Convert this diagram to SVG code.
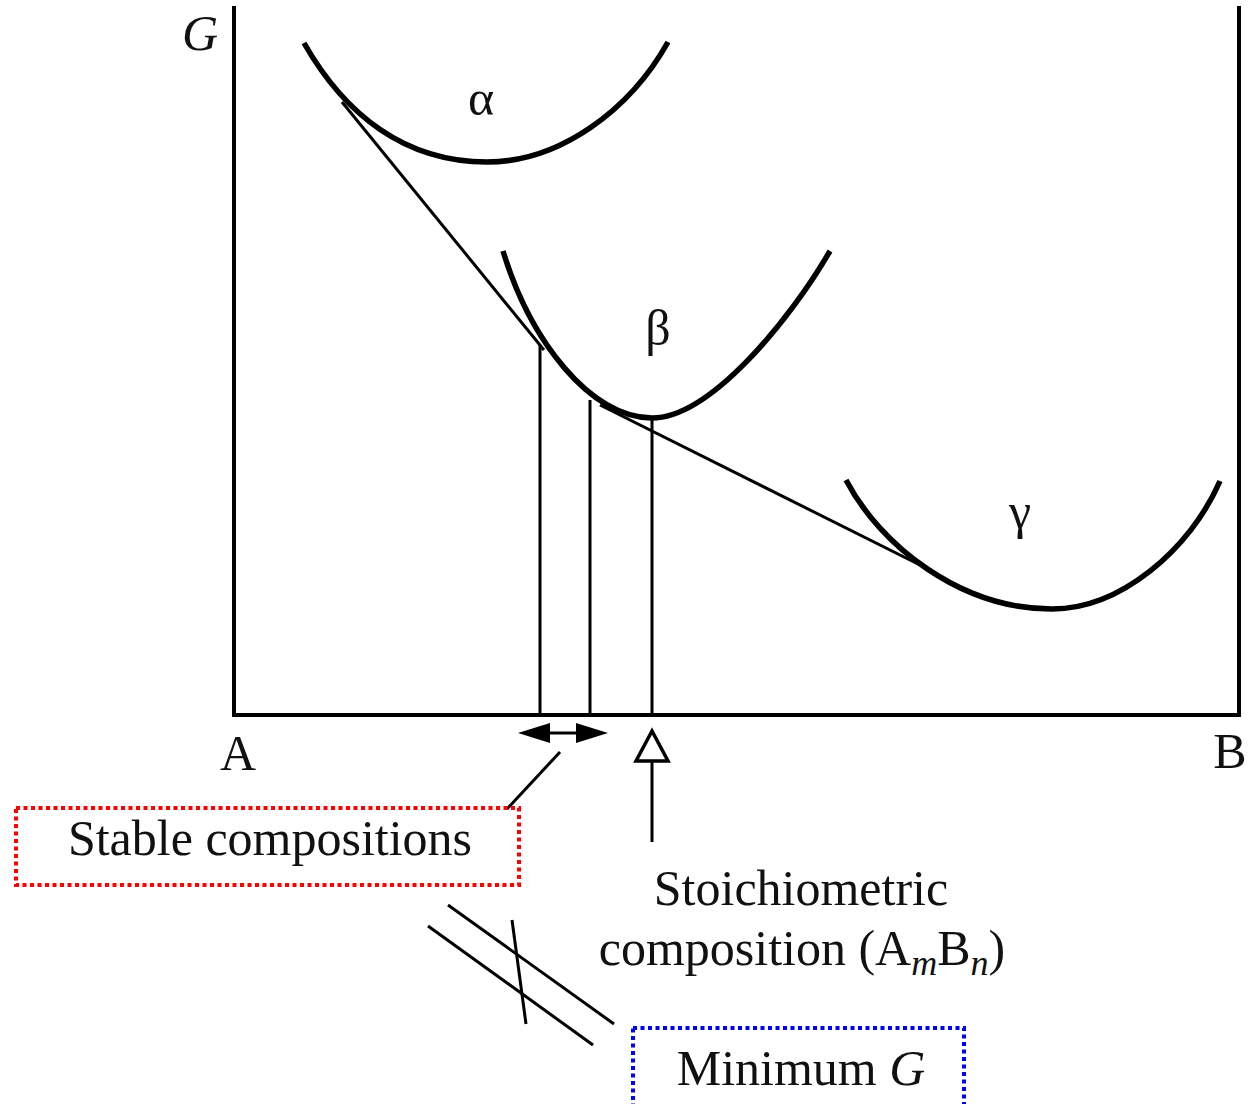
<svg xmlns="http://www.w3.org/2000/svg" width="1249" height="1104" viewBox="0 0 1249 1104">
<style>
.axis{fill:none;stroke:#000;stroke-width:4;stroke-linecap:square}
.curve{fill:none;stroke:#000;stroke-width:5.5;stroke-linecap:butt}
.thin{fill:none;stroke:#000;stroke-width:3}
.lbl{font-family:"Liberation Serif","DejaVu Serif",serif;font-size:50px;fill:#111;text-anchor:middle}
.it{font-style:italic}
.sub{font-size:36px;font-style:italic}
.redbox{fill:none;stroke:#ff0000;stroke-width:4;stroke-dasharray:4 3.5}
.bluebox{fill:none;stroke:#0000ff;stroke-width:4;stroke-dasharray:4 3.5}
</style>
<rect width="1249" height="1104" fill="#fff"/>
<g id="axes">
<path class="axis" d="M234,8 V715 H1239 V8"/>
</g>
<g id="alpha">
<path class="curve" d="M304,43 C345,115 405,162 487,162 C560,162 630,110 668,42"/>
<text class="lbl" x="481" y="115">α</text>
</g>
<g id="beta">
<path class="curve" d="M503,251 C530,340 590,418 652,418 C710,418 790,320 830,251"/>
<text class="lbl" x="658" y="345">β</text>
</g>
<g id="gamma">
<path class="curve" d="M846,480 C880,545 960,609 1052,609 C1120,609 1190,550 1220,481"/>
<text class="lbl" x="1020" y="528">γ</text>
</g>
<g id="labels">
<text class="lbl it" x="200" y="50">G</text>
<text class="lbl" x="238" y="770">A</text>
<text class="lbl" x="1230" y="768">B</text>
</g>
<g id="connectors">
<line class="thin" x1="342" y1="102" x2="544" y2="350"/>
<line class="thin" x1="600" y1="405" x2="932" y2="571"/>
<line class="thin" x1="540" y1="345" x2="540" y2="715"/>
<line class="thin" x1="590" y1="400" x2="590" y2="715"/>
<line class="thin" x1="652" y1="418" x2="652" y2="715"/>
<line class="thin" x1="548" y1="733" x2="579" y2="733"/>
<path d="M518,733 L550,723 L550,743 Z" fill="#000"/>
<path d="M608,733 L576,723 L576,743 Z" fill="#000"/>
<line class="thin" x1="560" y1="752" x2="507" y2="809"/>
<path d="M652,731 L636,761 L668,761 Z" fill="#fff" stroke="#000" stroke-width="3.5" stroke-linejoin="miter"/>
<line class="thin" x1="652" y1="761" x2="652" y2="842"/>
<line class="thin" x1="448" y1="905" x2="614" y2="1024"/>
<line class="thin" x1="428" y1="926" x2="593" y2="1045"/>
<line class="thin" x1="512" y1="920" x2="526" y2="1024"/>
</g>
<g id="stable">
<rect class="redbox" x="16" y="808" width="503" height="77"/>
<text class="lbl" x="270" y="855">Stable compositions</text>
</g>
<g id="stoich">
<text class="lbl" x="801" y="905">Stoichiometric</text>
<text class="lbl" x="802" y="965">composition (A<tspan class="sub" dy="10">m</tspan><tspan dy="-10">B</tspan><tspan class="sub" dy="10">n</tspan><tspan dy="-10">)</tspan></text>
</g>
<g id="minimum">
<rect class="bluebox" x="633" y="1028" width="331" height="80"/>
<text class="lbl" x="801" y="1085">Minimum <tspan class="it">G</tspan></text>
</g>
</svg>
